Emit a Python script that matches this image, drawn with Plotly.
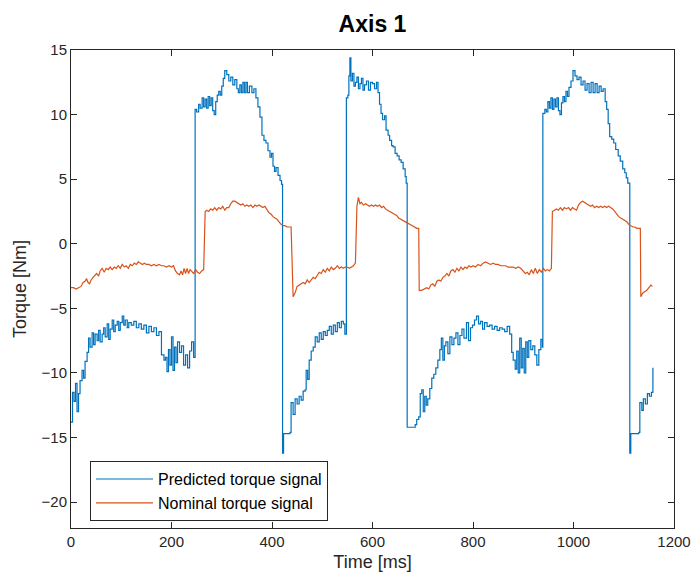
import plotly.graph_objects as go

# Predicted torque signal (time [ms], torque [Nm])
pred_t = [0,3,6,9,12,15,18,22,25,28,32,35,38,42,45,48,52,55,58,62,65,68,72,75,78,82,85,88,92,95,98,102,105,108,112,115,120,125,130,135,140,145,150,155,160,165,170,175,180,185,188,191,194,197,200,203,206,209,212,216,220,224,228,232,236,240,244,
          247,250,254,257,261,264,267,270,273,276,279,282,285,288,291,294,297,300,303,306,310,314,318,322,326,330,333,336,339,342,345,348,351,355,360,364,368,372,376,380,384,388,392,396,399,402,405,408,412,416,419,
          421,423,436,438,442,446,450,454,458,462,466,468,471,474,478,482,486,490,494,498,502,506,510,514,518,522,526,530,534,538,542,545,
          548,551,553,555,557,560,563,566,569,572,575,578,581,584,588,592,596,600,604,608,611,614,617,620,624,627,631,634,638,641,645,649,653,657,661,665,667,
          669,685,688,692,695,698,701,704,707,710,714,718,722,726,730,734,737,740,743,746,750,754,758,762,766,770,774,778,782,787,791,795,799,803,807,811,815,819,823,828,833,838,843,848,853,858,863,868,873,877,880,884,887,890,893,896,899,902,905,908,911,915,919,923,927,931,935,938,
          939,943,946,949,952,955,958,961,964,967,970,973,976,979,982,985,988,991,995,999,1003,1007,1011,1015,1019,1023,1027,1031,1035,1039,1043,1047,1051,1055,1059,1063,1066,1069,1072,1076,1080,1084,1089,1093,1098,1102,1105,1108,
          1112,1114,1130,1132,1136,1139,1143,1147,1151,1155,1158]
pred_y = [-13.8,-11.5,-12.2,-10.8,-13.0,-11.6,-10.6,-9.8,-10.4,-9.1,-8.4,-7.3,-8.0,-6.9,-7.8,-7.0,-7.5,-6.7,-7.6,-7.0,-6.5,-7.2,-6.2,-7.4,-6.6,-5.9,-6.8,-6.3,-6.0,-6.7,-6.1,-5.6,-6.3,-5.9,-6.5,-6.1,-6.3,-6.0,-6.5,-6.2,-6.6,-6.3,-6.9,-6.4,-6.8,-6.5,-7.1,-6.8,-8.6,-9.0,-8.8,-9.9,-8.2,-9.4,-7.2,-9.8,-8.0,-9.2,-7.6,-8.4,-7.9,-9.4,-8.6,-9.6,-8.3,-7.6,-8.8,
          10.4,10.2,10.8,10.5,11.3,10.6,11.2,10.5,11.4,10.7,11.3,10.3,10.0,11.0,11.5,11.8,11.5,12.2,12.8,13.4,13.1,12.6,12.9,12.3,12.7,12.0,11.7,12.3,11.7,12.5,11.7,12.5,11.7,12.2,11.7,12.0,11.3,10.6,9.8,8.4,8.0,7.8,7.2,6.7,7.0,6.0,5.6,5.9,5.3,4.9,4.6,
          -16.2,-14.7,-14.6,-12.3,-13.2,-12.0,-12.4,-11.8,-12.1,-11.4,-11.3,-9.8,-10.5,-9.0,-8.3,-8.0,-7.2,-7.6,-6.9,-7.4,-6.8,-7.1,-6.7,-6.4,-7.0,-6.3,-6.8,-6.1,-6.5,-6.0,-6.2,-7.0,
          11.3,11.5,13.0,14.4,12.6,13.2,12.2,12.5,12.9,12.0,12.4,12.8,11.9,12.3,12.6,11.9,12.5,12.4,12.0,12.5,11.7,10.8,10.1,9.6,9.9,8.8,8.4,8.0,7.6,7.5,7.0,6.8,6.5,6.3,5.8,5.2,4.7,
          -14.2,-14.0,-13.6,-13.4,-11.6,-11.3,-13.0,-11.8,-12.5,-12.0,-11.2,-10.4,-10.1,-9.6,-9.0,-8.2,-7.3,-9.0,-7.9,-7.6,-8.5,-7.2,-7.8,-7.3,-6.9,-7.8,-7.1,-6.6,-7.3,-6.1,-7.5,-6.5,-6.3,-5.9,-5.6,-6.2,-6.0,-6.6,-6.1,-6.4,-6.3,-6.6,-6.4,-6.7,-6.5,-6.6,-6.8,-6.4,-7.0,-8.4,-9.0,-9.7,-8.3,-10.0,-7.3,-9.6,-8.1,-10.0,-7.6,-8.8,-7.5,-8.2,-7.9,-8.6,-9.4,-8.2,-7.4,-8.0,
          10.1,10.4,10.2,11.0,10.5,11.3,10.4,11.2,10.6,11.3,10.3,10.0,10.9,11.4,11.0,11.8,11.4,12.1,12.6,13.4,13.0,12.7,12.9,12.3,12.6,11.9,12.4,11.7,12.5,11.7,12.4,11.7,12.2,11.8,12.0,11.0,10.4,9.3,8.3,8.1,7.8,7.3,6.8,6.4,5.8,5.5,5.1,4.7,
          -16.2,-14.7,-14.6,-12.3,-12.9,-12.0,-12.4,-11.6,-11.8,-11.5,-9.6]

# Nominal torque signal (time [ms], torque [Nm])
nom_t = [0,5,10,15,20,24,28,31,34,37,40,44,48,51,55,58,62,66,70,74,78,82,86,90,94,98,102,106,110,114,118,122,126,130,134,138,142,146,150,155,160,165,170,175,180,185,190,195,200,204,208,212,216,219,222,225,228,231,234,237,240,244,248,252,256,260,264,
         267,270,274,278,282,286,290,294,298,302,306,310,314,318,322,326,330,334,338,342,346,350,354,358,362,366,370,374,378,382,386,390,394,398,402,406,410,414,418,422,426,430,434,438,
         442,446,450,454,458,462,466,470,474,478,482,486,490,494,498,502,506,510,514,518,522,526,530,534,538,542,546,550,554,558,562,566,
         569,572,575,578,582,586,590,594,598,602,606,610,614,618,622,626,630,635,640,644,648,652,656,661,665,670,675,680,684,688,692,
         693,698,703,708,712,716,720,724,728,732,736,740,744,748,752,756,760,764,768,772,776,780,784,788,792,796,800,805,810,815,820,825,830,835,840,845,850,855,860,865,870,875,880,885,890,895,900,904,908,912,916,920,924,928,932,936,940,944,948,952,956,
         958,962,966,970,974,978,982,986,990,994,998,1002,1006,1010,1014,1018,1022,1026,1030,1034,1038,1042,1046,1050,1054,1058,1062,1066,1070,1074,1078,1082,1086,1090,1094,1098,1102,1106,1110,1114,1118,1122,1126,1130,1133,
         1134,1138,1142,1146,1150,1154,1157]
nom_y = [-3.4,-3.4,-3.5,-3.4,-3.3,-3.0,-2.9,-2.7,-3.0,-3.1,-2.8,-2.6,-2.4,-2.3,-2.5,-2.1,-1.9,-2.2,-1.9,-2.0,-1.8,-2.0,-1.8,-1.9,-1.7,-1.9,-1.6,-1.8,-1.7,-1.9,-1.6,-1.7,-1.5,-1.6,-1.4,-1.5,-1.6,-1.5,-1.6,-1.6,-1.7,-1.6,-1.7,-1.6,-1.7,-1.7,-1.8,-1.7,-1.8,-1.7,-2.1,-2.3,-2.4,-2.1,-2.4,-1.9,-2.3,-1.9,-2.3,-2.0,-2.1,-2.3,-2.0,-2.2,-2.3,-2.1,-2.0,
         2.5,2.6,2.5,2.7,2.6,2.8,2.6,2.8,2.7,2.9,2.6,2.8,2.8,3.1,3.3,3.3,3.2,3.1,3.0,3.1,2.9,3.0,2.9,3.0,2.8,3.0,2.9,3.0,2.9,2.8,2.9,2.6,2.4,2.3,2.1,2.0,1.9,1.7,1.5,1.4,1.4,1.3,1.3,1.3,
         -4.1,-3.8,-3.3,-3.2,-3.1,-3.0,-3.1,-2.8,-3.0,-2.8,-2.6,-2.7,-2.4,-2.2,-2.3,-2.0,-2.2,-1.9,-2.1,-1.8,-2.0,-1.9,-1.7,-1.9,-1.8,-1.9,-1.8,-1.8,-1.9,-1.8,-1.7,-1.5,
         2.9,3.6,3.1,3.2,3.0,3.1,3.0,2.9,3.0,2.9,3.0,2.9,3.0,2.8,2.9,2.7,2.6,2.5,2.4,2.3,2.2,2.0,1.9,1.8,1.7,1.6,1.5,1.4,1.3,1.2,1.2,
         -3.6,-3.6,-3.5,-3.4,-3.5,-3.2,-3.1,-3.3,-2.9,-2.8,-2.9,-2.6,-2.5,-2.3,-2.5,-2.1,-2.0,-2.2,-1.9,-2.1,-1.8,-2.0,-1.8,-1.9,-1.7,-1.8,-1.7,-1.8,-1.6,-1.7,-1.5,-1.4,-1.5,-1.6,-1.5,-1.6,-1.6,-1.7,-1.7,-1.7,-1.8,-1.8,-1.8,-1.9,-1.8,-1.9,-2.1,-2.3,-2.2,-2.4,-2.0,-2.3,-1.9,-2.3,-2.0,-2.2,-1.9,-2.1,-2.0,-2.1,-1.9,
         2.5,2.6,2.7,2.6,2.8,2.6,2.8,2.7,2.8,2.6,2.8,2.7,2.6,3.0,3.2,3.3,3.2,3.1,3.0,2.9,3.0,2.8,2.9,2.8,2.9,2.8,2.9,2.8,2.9,2.8,2.7,2.5,2.3,2.1,2.0,1.9,1.8,1.7,1.5,1.4,1.3,1.3,1.2,1.2,1.2,
         -4.1,-3.8,-3.7,-3.6,-3.4,-3.2,-3.3]

x_ticks = [0, 200, 400, 600, 800, 1000, 1200]
y_ticks = [-20, -15, -10, -5, 0, 5, 10, 15]

FONT = "Liberation Sans, Arial, sans-serif"
INK = "#262626"

fig = go.Figure()
fig.add_trace(go.Scatter(x=pred_t, y=pred_y, mode="lines", name="Predicted torque signal",
                         line=dict(color="#0072BD", width=1.2, shape="hv")))
fig.add_trace(go.Scatter(x=nom_t, y=nom_y, mode="lines", name="Nominal torque signal",
                         line=dict(color="#D95319", width=1.2)))

axis_common = dict(showline=True, linecolor=INK, linewidth=1, mirror="ticks",
                   ticks="inside", ticklen=6, tickcolor=INK, showgrid=False, zeroline=False,
                   automargin=False,
                   tickfont=dict(family=FONT, size=15, color=INK))

fig.update_xaxes(range=[0, 1200], tickvals=x_ticks, title=dict(text="Time [ms]", standoff=6,
                 font=dict(family=FONT, size=18, color=INK)), **axis_common)
fig.update_yaxes(range=[-22, 15], tickvals=y_ticks, title=dict(text="Torque [Nm]", standoff=10,
                 font=dict(family=FONT, size=18, color=INK)), **axis_common)

fig.update_layout(
    width=695, height=583,
    margin=dict(l=71, r=21, t=50, b=55),
    paper_bgcolor="white", plot_bgcolor="white",
    title=dict(text="<b>Axis 1</b>", x=0.5, xref="paper", xanchor="center",
               y=1 - 24 / 583, yref="container", yanchor="middle",
               font=dict(family=FONT, size=23, color="#000000")),
    legend=dict(x=0.0315, y=0.140, xanchor="left", yanchor="top",
                bordercolor=INK, borderwidth=1, bgcolor="white",
                itemwidth=57, tracegroupgap=0,
                font=dict(family=FONT, size=16, color="#000000")),
    showlegend=True,
)

fig.write_html("out.html", config={"displayModeBar": False},
               post_script="document.body.style.margin='0';")
